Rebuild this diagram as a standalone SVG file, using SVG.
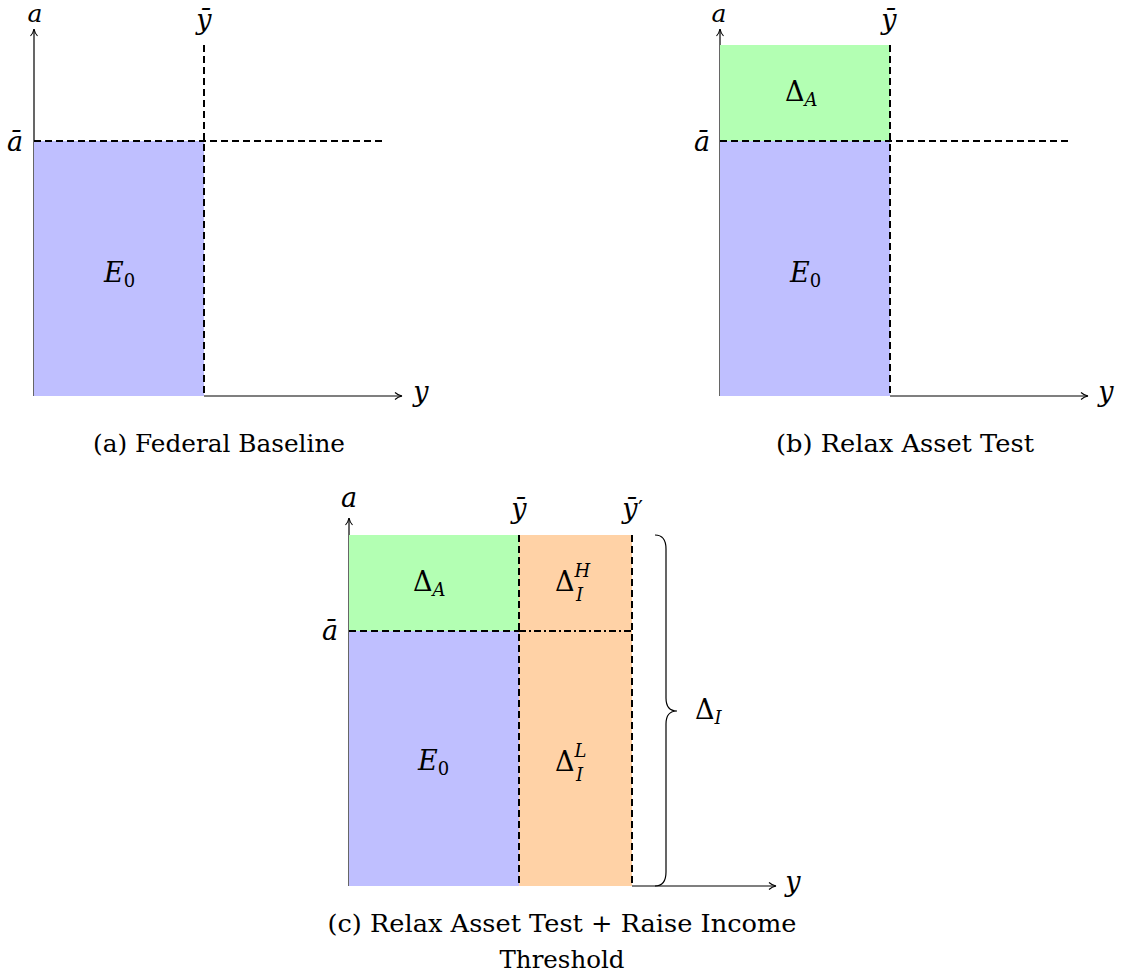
<svg xmlns="http://www.w3.org/2000/svg" width="1122" height="979" viewBox="0 0 1122 979">
<style>
.t{font-family:"DejaVu Serif","Liberation Serif",serif;fill:#000}
.m{font-family:"DejaVu Serif","Liberation Serif",serif;font-style:italic;font-size:27px;fill:#000}
.top{font-size:25px}
.r{font-style:normal}
.sub{font-size:18px}
.cap{font-size:25px}
.ax{stroke:#000;stroke-width:1.2;fill:none}
.d{stroke:#000;stroke-width:2;stroke-dasharray:7 4;fill:none}
.dd{stroke:#000;stroke-width:2;stroke-dasharray:7 3 2 3;fill:none}
.blue{fill:#bfbfff}
.green{fill:#b3ffb3}
.orange{fill:#ffd2a6}
</style>
<defs>
<marker id="arr" viewBox="0 0 10 10" refX="9" refY="5" markerWidth="10" markerHeight="10" markerUnits="userSpaceOnUse" orient="auto">
<path d="M2,1.5 Q5,4.2 9,5 Q5,5.8 2,8.5" fill="none" stroke="#000" stroke-width="1.1"/>
</marker>
</defs>

<g id="panel-a">
<line class="ax" x1="34" y1="396" x2="34" y2="29" marker-end="url(#arr)"/>
<rect class="blue" x="34" y="141" width="170" height="255"/>
<line class="ax" x1="204" y1="396" x2="402" y2="396" marker-end="url(#arr)"/>
<line class="d" x1="204" y1="45" x2="204" y2="396"/>
<line class="d" x1="34" y1="141" x2="386" y2="141"/>
<text class="m top" x="35" y="22" text-anchor="middle">a</text>
<text class="m" x="204" y="29" text-anchor="middle">ȳ</text>
<text class="m" x="15" y="151" text-anchor="middle">ā</text>
<text class="m" x="421" y="401" text-anchor="middle">y</text>
<text class="m" x="104" y="282">E<tspan class="r sub" dy="5">0</tspan></text>
<text class="t cap" x="219" y="452" text-anchor="middle" textLength="252" lengthAdjust="spacingAndGlyphs">(a) Federal Baseline</text>
</g>

<g id="panel-b">
<line class="ax" x1="720" y1="396" x2="720" y2="29" marker-end="url(#arr)" stroke="#666"/>
<rect class="green" x="720" y="45" width="170" height="96"/>
<rect class="blue" x="720" y="141" width="170" height="255"/>
<line class="ax" x1="890" y1="396" x2="1088" y2="396" marker-end="url(#arr)"/>
<line class="d" x1="890" y1="45" x2="890" y2="396"/>
<line class="d" x1="720" y1="141" x2="1072" y2="141"/>
<text class="m top" x="719" y="22" text-anchor="middle">a</text>
<text class="m" x="889" y="29" text-anchor="middle">ȳ</text>
<text class="m" x="702" y="151" text-anchor="middle">ā</text>
<text class="m" x="1106" y="401" text-anchor="middle">y</text>
<text class="m" x="785" y="101"><tspan class="r">Δ</tspan><tspan class="sub" dy="5">A</tspan></text>
<text class="m" x="790" y="282">E<tspan class="r sub" dy="5">0</tspan></text>
<text class="t cap" x="905" y="452" text-anchor="middle" textLength="258" lengthAdjust="spacingAndGlyphs">(b) Relax Asset Test</text>
</g>

<g id="panel-c">
<line class="ax" x1="349" y1="886" x2="349" y2="518" marker-end="url(#arr)"/>
<rect class="green" x="349" y="535" width="170" height="96"/>
<rect class="blue" x="349" y="631" width="170" height="255"/>
<rect class="orange" x="519" y="535" width="113" height="351"/>
<line class="ax" x1="632" y1="886" x2="776" y2="886" marker-end="url(#arr)"/>
<line class="d" x1="519" y1="535" x2="519" y2="886"/>
<line class="d" x1="632" y1="535" x2="632" y2="886"/>
<line class="d" x1="349" y1="631" x2="519" y2="631"/>
<line class="dd" x1="519" y1="631" x2="632" y2="631"/>
<path class="ax" d="M655,535 Q666,535 666,549 L666,698 Q666,711 677,711 Q666,711 666,724 L666,872 Q666,886 655,886"/>
<text class="m" x="349" y="507" text-anchor="middle">a</text>
<text class="m" x="519" y="518" text-anchor="middle">ȳ</text>
<text class="m" x="630" y="518" text-anchor="middle">ȳ</text>
<text class="t" x="638" y="516" font-size="22">′</text>
<text class="m" x="330" y="640" text-anchor="middle">ā</text>
<text class="m" x="793" y="891" text-anchor="middle">y</text>
<text class="m" x="413" y="591"><tspan class="r">Δ</tspan><tspan class="sub" dy="5">A</tspan></text>
<text class="m" x="555" y="591"><tspan class="r">Δ</tspan><tspan class="sub" dy="-14">H</tspan></text>
<text class="m sub" x="576" y="601">I</text>
<text class="m" x="418" y="770">E<tspan class="r sub" dy="5">0</tspan></text>
<text class="m" x="555" y="771"><tspan class="r">Δ</tspan><tspan class="sub" dy="-14">L</tspan></text>
<text class="m sub" x="576" y="781">I</text>
<text class="m" x="695" y="719"><tspan class="r">Δ</tspan><tspan class="sub" dy="5">I</tspan></text>
<text class="t cap" x="562" y="932" text-anchor="middle" textLength="469" lengthAdjust="spacingAndGlyphs">(c) Relax Asset Test + Raise Income</text>
<text class="t cap" x="562" y="968" text-anchor="middle" textLength="125" lengthAdjust="spacingAndGlyphs">Threshold</text>
</g>
</svg>
